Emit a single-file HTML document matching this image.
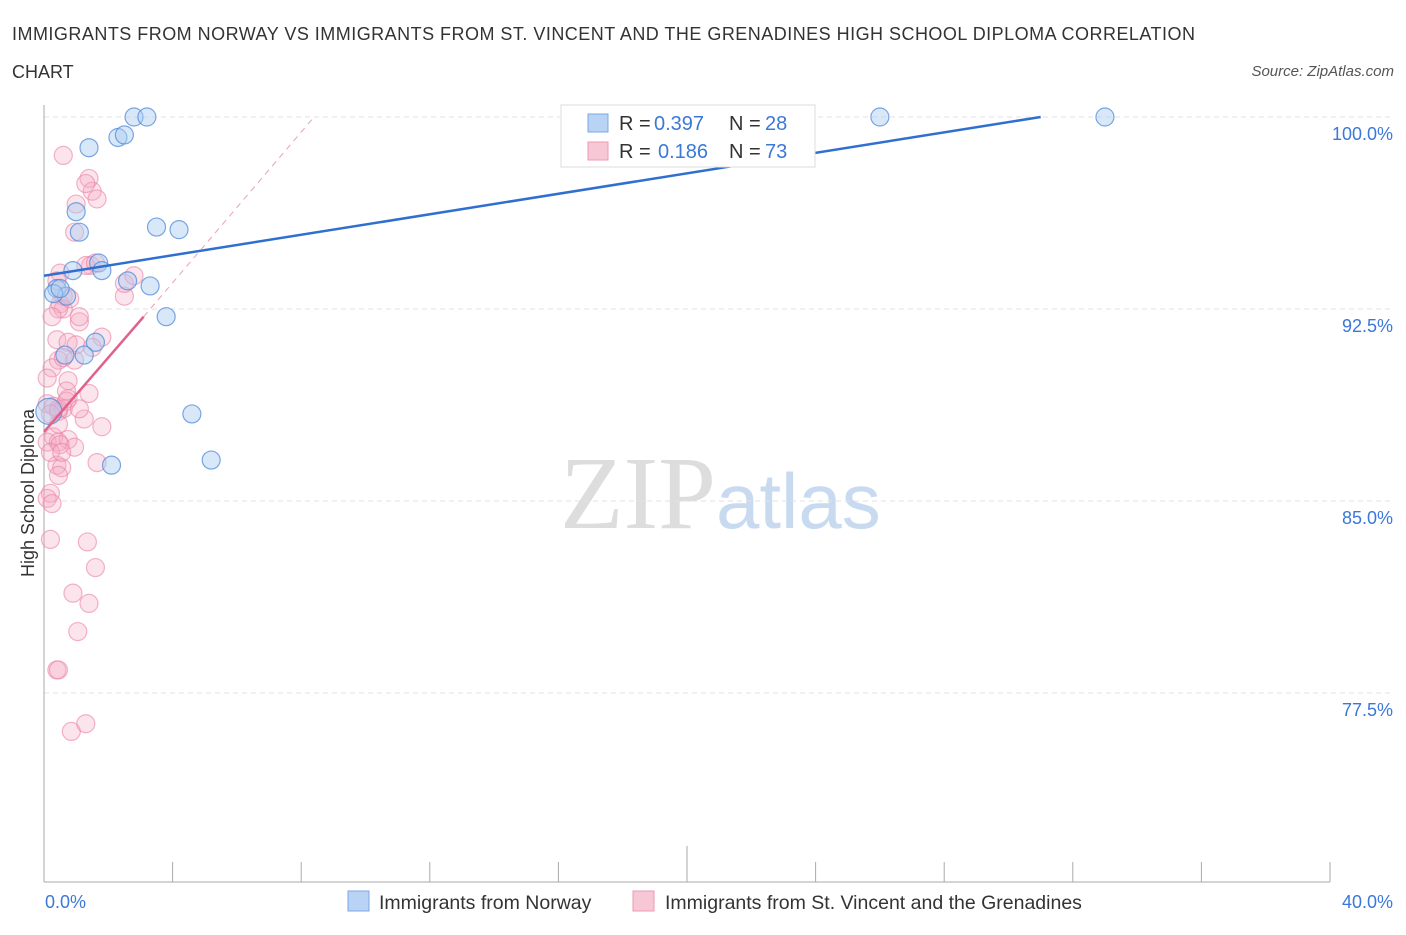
<!DOCTYPE html>
<html><head><meta charset="utf-8"><style>
body{margin:0;background:#fff;font-family:"Liberation Sans",sans-serif;}
</style></head><body>
<svg width="1406" height="930" xmlns="http://www.w3.org/2000/svg" font-family="Liberation Sans, sans-serif">
<text x="12" y="40" font-size="18" fill="#333" textLength="1183">IMMIGRANTS FROM NORWAY VS IMMIGRANTS FROM ST. VINCENT AND THE GRENADINES HIGH SCHOOL DIPLOMA CORRELATION</text>
<text x="12" y="78" font-size="18" fill="#333">CHART</text>
<text x="1394" y="76" font-size="15" fill="#555" font-style="italic" text-anchor="end">Source: ZipAtlas.com</text>
<text x="716" y="528" font-size="104" fill="#ddd" text-anchor="end" font-family="Liberation Serif, serif">ZIP</text>
<text x="716" y="528" font-size="78" fill="#c8daf0">atlas</text>
<g id="grid"></g>
<g id="axes"></g>
<g id="marks"></g>
<text transform="translate(34,493) rotate(-90)" font-size="18" fill="#333" text-anchor="middle">High School Diploma</text>
<text x="45" y="908" font-size="18" fill="#3b78d8">0.0%</text>
<text x="1393" y="908" font-size="18" fill="#3b78d8" text-anchor="end">40.0%</text>
<g>
<rect x="561" y="105" width="254" height="62" fill="#fff" stroke="#ddd"/>
<rect x="588" y="114" width="20" height="18" fill="#b9d3f5" stroke="#7aa7e6"/>
<text x="619" y="130" font-size="20" fill="#333">R =</text>
<text x="654" y="130" font-size="20" fill="#3b78d8">0.397</text>
<text x="729" y="130" font-size="20" fill="#333">N =</text>
<text x="765" y="130" font-size="20" fill="#3b78d8">28</text>
<rect x="588" y="142" width="20" height="18" fill="#f8c7d5" stroke="#ee9ab4"/>
<text x="619" y="158" font-size="20" fill="#333">R =</text>
<text x="658" y="158" font-size="20" fill="#3b78d8">0.186</text>
<text x="729" y="158" font-size="20" fill="#333">N =</text>
<text x="765" y="158" font-size="20" fill="#3b78d8">73</text>
</g>
<g>
<rect x="348" y="891" width="21" height="20" fill="#b9d3f5" stroke="#7aa7e6"/>
<text x="379" y="909" font-size="19.5" fill="#333">Immigrants from Norway</text>
<rect x="633" y="891" width="21" height="20" fill="#f8c7d5" stroke="#ee9ab4"/>
<text x="665" y="909" font-size="19.5" fill="#333">Immigrants from St. Vincent and the Grenadines</text>
</g>
</svg>
<script>
const yTicks=[100,92.5,85,77.5];
const yTickLabels=["100.0%","92.5%","85.0%","77.5%"];
const xTicks=[0,4,8,12,16,20,24,28,32,36,40];
const norwayX=[2.8,3.2,26.0,33.0,2.3,2.5,1.4,1.0,1.1,3.5,4.2,1.7,1.8,0.9,2.6,3.3,0.4,0.7,3.8,1.6,0.65,1.25,4.6,5.2,2.1,0.15,0.3,0.5];
const norwayY=[100,100,100,100,99.2,99.3,98.8,96.3,95.5,95.7,95.6,94.3,94.0,94.0,93.6,93.4,93.3,93.0,92.2,91.2,90.7,90.7,88.4,86.6,86.4,88.5,93.1,93.3];
const vincentX=[0.6,1.4,1.5,1.65,1.0,0.95,1.45,1.3,0.5,0.4,0.6,2.5,2.5,2.8,0.5,0.6,0.45,0.25,1.1,1.8,0.4,0.75,1.0,0.45,0.95,0.75,0.25,1.4,0.75,0.1,0.3,0.6,0.45,1.25,1.8,0.45,0.2,0.3,0.75,0.95,0.1,0.45,0.4,1.65,0.55,0.45,0.2,0.1,0.2,1.35,1.6,0.9,1.4,1.05,0.4,0.45,0.85,1.3,0.7,0.5,0.2,0.25,0.6,0.8,1.1,1.5,0.7,0.45,1.1,0.55,0.1,1.6,1.3];
const vincentY=[98.5,97.6,97.1,96.8,96.6,95.5,94.2,94.2,93.9,93.6,93.0,93.0,93.5,93.8,92.7,92.5,92.5,92.2,92.0,91.4,91.3,91.2,91.1,90.5,90.5,89.7,90.2,89.2,89.0,88.8,88.7,88.6,88.5,88.2,87.9,88.6,88.4,87.5,87.4,87.1,87.3,87.3,86.4,86.5,86.3,86.0,85.3,85.1,83.5,83.4,82.4,81.4,81.0,79.9,78.4,78.4,76.0,76.3,88.9,87.2,86.9,84.9,90.6,92.9,92.2,91.0,89.3,88.0,88.6,86.9,89.8,94.3,97.4];
const X=v=>44+v*32.15, Y=v=>117+(100-v)*25.6;
const ns="http://www.w3.org/2000/svg";
function mk(t,a,p){const e=document.createElementNS(ns,t);for(const k in a)e.setAttribute(k,a[k]);document.getElementById(p).appendChild(e);return e;}
yTicks.forEach((t,i)=>{
 const g=mk('line',{x1:44,x2:1394,y1:Y(t),y2:Y(t),stroke:'#e2e2e2','stroke-dasharray':'5,4'},'grid');
 
 
 const l=mk('text',{x:1393,y:Y(t)+23,'font-size':18,fill:'#3b78d8','text-anchor':'end'},'axes');
 l.textContent=yTickLabels[i];
 
 
});
const ya=mk('line',{x1:44,x2:44,y1:105,y2:882,stroke:'#aaa'},'axes');


const xa=mk('line',{x1:44,x2:1330,y1:882,y2:882,stroke:'#aaa'},'axes');


xTicks.forEach((t,i)=>{
 const tk=mk('line',{x1:X(t),x2:X(t),y1:862,y2:882,stroke:'#aaa'},'axes');
 if(i==5){tk.setAttribute('y1',846);}
 
 
});
vincentX.forEach((v,i)=>{
 const c=mk('circle',{cx:X(v),cy:Y(vincentY[i]),r:9,fill:'rgba(246,172,196,0.32)',stroke:'rgba(234,130,165,0.6)','stroke-width':1.2},'marks');
 
 
});
norwayX.forEach((v,i)=>{
 const c=mk('circle',{cx:X(v),cy:Y(norwayY[i]),r:i==25?13:9,fill:'rgba(170,203,242,0.45)',stroke:'rgba(80,138,218,0.75)','stroke-width':1.2},'marks');
 
 
});
const bl=mk('line',{x1:X(0),y1:Y(93.8),x2:X(31),y2:Y(100),stroke:'#2f6fd0','stroke-width':2.5},'marks');


const pd=mk('line',{x1:X(3.1),y1:Y(92.2),x2:X(8.4),y2:Y(100),stroke:'#e8a0b8','stroke-width':1,'stroke-dasharray':'6,5'},'marks');


const pl=mk('line',{x1:X(0),y1:Y(87.7),x2:X(3.1),y2:Y(92.2),stroke:'#e0628a','stroke-width':2.5},'marks');


</script>
</body></html>
